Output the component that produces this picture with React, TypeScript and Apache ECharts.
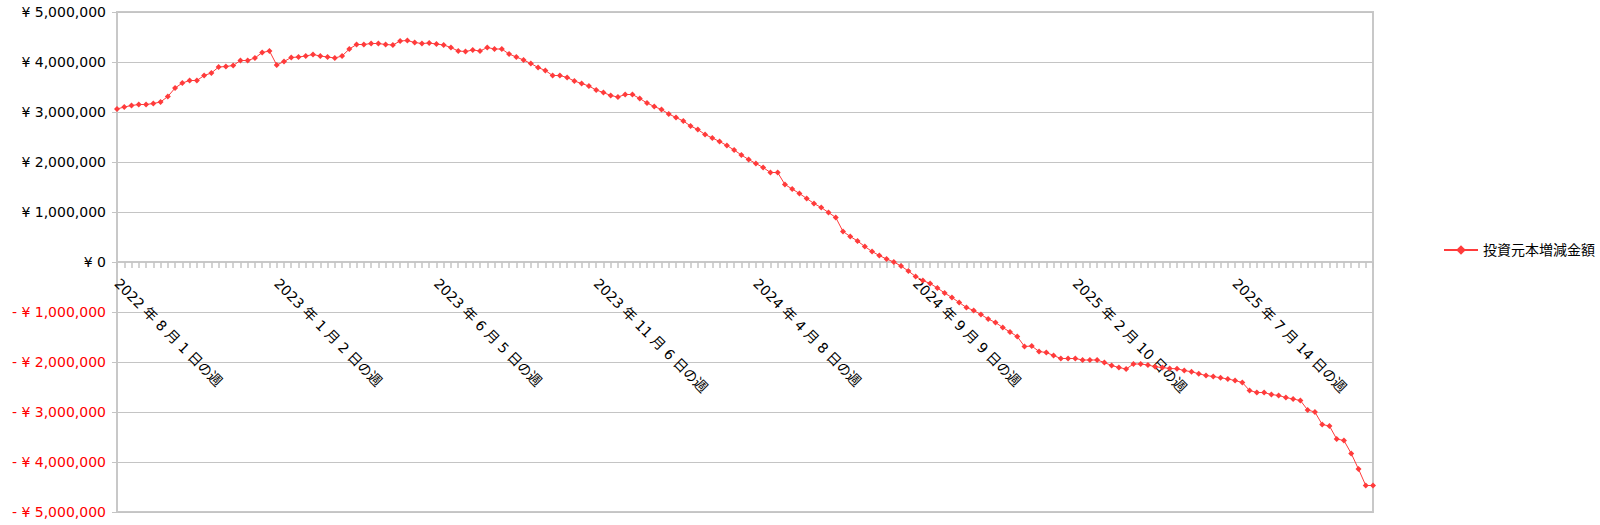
import React, { useEffect, useRef } from "react";
import * as echarts from "echarts";

const SERIES_NAME = "投資元本増減金額";
const START_DATE = [2022, 8, 1];
const WEEK_COUNT = 174;
const Y_TICKS = [-5000000, -4000000, -3000000, -2000000, -1000000, 0, 1000000, 2000000, 3000000, 4000000, 5000000];

const values = [
  3060000, 3100000, 3130000, 3150000, 3150000, 3170000, 3200000, 3310000, 3480000, 3580000,
  3630000, 3630000, 3730000, 3780000, 3900000, 3910000, 3930000, 4030000, 4030000, 4080000,
  4190000, 4220000, 3940000, 4010000, 4090000, 4100000, 4120000, 4150000, 4120000, 4100000,
  4080000, 4120000, 4260000, 4350000, 4350000, 4370000, 4370000, 4350000, 4340000, 4420000,
  4430000, 4390000, 4370000, 4380000, 4360000, 4340000, 4290000, 4220000, 4210000, 4240000,
  4220000, 4290000, 4260000, 4260000, 4160000, 4100000, 4040000, 3970000, 3890000, 3830000,
  3730000, 3730000, 3690000, 3620000, 3570000, 3520000, 3440000, 3390000, 3330000, 3300000,
  3350000, 3350000, 3270000, 3180000, 3110000, 3050000, 2960000, 2890000, 2820000, 2720000,
  2650000, 2550000, 2480000, 2410000, 2330000, 2240000, 2140000, 2050000, 1970000, 1890000,
  1790000, 1790000, 1550000, 1460000, 1370000, 1270000, 1170000, 1090000, 990000, 890000,
  610000, 510000, 420000, 310000, 210000, 130000, 60000, 0, -80000, -180000,
  -290000, -370000, -430000, -520000, -620000, -710000, -810000, -910000, -970000, -1050000,
  -1140000, -1210000, -1310000, -1400000, -1490000, -1690000, -1680000, -1790000, -1810000, -1870000,
  -1930000, -1930000, -1930000, -1960000, -1960000, -1960000, -2010000, -2070000, -2110000, -2140000,
  -2040000, -2040000, -2060000, -2095000, -2110000, -2130000, -2135000, -2170000, -2195000, -2235000,
  -2270000, -2290000, -2315000, -2340000, -2370000, -2410000, -2570000, -2610000, -2610000, -2650000,
  -2670000, -2710000, -2740000, -2770000, -2960000, -3000000, -3250000, -3280000, -3540000, -3570000,
  -3830000, -4140000, -4470000, -4470000,
];

function buildCategories(): string[] {
  const out: string[] = [];
  const base = Date.UTC(START_DATE[0], START_DATE[1] - 1, START_DATE[2]);
  for (let i = 0; i < WEEK_COUNT; i++) {
    const d = new Date(base + i * 7 * 86400000);
    out.push(`${d.getUTCFullYear()} 年 ${d.getUTCMonth() + 1} 月 ${d.getUTCDate()} 日の週`);
  }
  return out;
}
const categories = buildCategories();

function yen(v: number): string {
  const s = Math.abs(v).toLocaleString("en-US");
  return v < 0 ? `- ¥ ${s}` : `¥ ${s}`;
}

const FONT = "'DejaVu Sans', 'Noto Sans CJK JP', sans-serif";
const RED = "#ff3b3b";
const GRID_GREY = "#c4c4c4";
const GRID_TOP = 12;
const GRID_BOTTOM = 13;
const CHART_H = 525;

export default function App() {
  const ref = useRef<HTMLDivElement>(null);
  useEffect(() => {
    if (!ref.current) return;
    const chart = echarts.init(ref.current, undefined, { renderer: "svg" });
    const plotH = CHART_H - GRID_TOP - GRID_BOTTOM;
    const yMin = Y_TICKS[0];
    const yMax = Y_TICKS[Y_TICKS.length - 1];
    // distance from bottom of grid to the zero line
    const zeroOffset = (plotH * (0 - yMin)) / (yMax - yMin);
    chart.setOption({
      animation: false,
      backgroundColor: "#ffffff",
      textStyle: { fontFamily: FONT },
      grid: {
        left: 117,
        right: 227,
        top: GRID_TOP,
        bottom: GRID_BOTTOM,
        containLabel: false,
        outerBoundsMode: "none",
        show: true,
        borderColor: "#c8c8c8",
        borderWidth: 2,
      },
      legend: {
        orient: "vertical",
        left: 1438,
        top: 238,
        itemWidth: 34,
        itemHeight: 12,
        itemGap: 4,
        textStyle: { fontSize: 14, color: "#000", fontFamily: FONT },
        data: [SERIES_NAME],
      },
      xAxis: {
        type: "category",
        data: categories,
        boundaryGap: false,
        position: "bottom",
        offset: -zeroOffset,
        axisLine: { onZero: false, lineStyle: { color: "#c8c8c8", width: 2 } },
        axisTick: { show: true, interval: 0, length: 6, lineStyle: { color: "#c4c4c4", width: 1.5 } },
        axisLabel: {
          interval: 21,
          rotate: -45,
          margin: 19,
          fontSize: 14,
          color: "#000",
          fontFamily: FONT,
        },
        splitLine: { show: false },
      },
      yAxis: {
        type: "value",
        min: yMin,
        max: yMax,
        interval: 1000000,
        axisLine: { show: true, lineStyle: { color: "#c8c8c8", width: 2 } },
        axisTick: { show: true, length: 5, lineStyle: { color: GRID_GREY, width: 1 } },
        axisLabel: {
          fontSize: 14,
          margin: 11,
          fontFamily: FONT,
          formatter: (v: number) => yen(v),
          color: (v: number) => (Number(v) < 0 ? "#ff0000" : "#000000"),
        },
        splitLine: { show: true, lineStyle: { color: GRID_GREY, width: 1 } },
      },
      series: [
        {
          name: SERIES_NAME,
          type: "line",
          data: values,
          symbol: "diamond",
          symbolSize: 6,
          showSymbol: true,
          showAllSymbol: true,
          lineStyle: { color: RED, width: 1 },
          itemStyle: { color: RED },
          z: 5,
        },
      ],
    });
    return () => chart.dispose();
  }, []);
  return (
    <div
      ref={ref}
      style={{ position: "fixed", left: 0, top: 0, width: "1600px", height: "525px", background: "#fff" }}
    />
  );
}
